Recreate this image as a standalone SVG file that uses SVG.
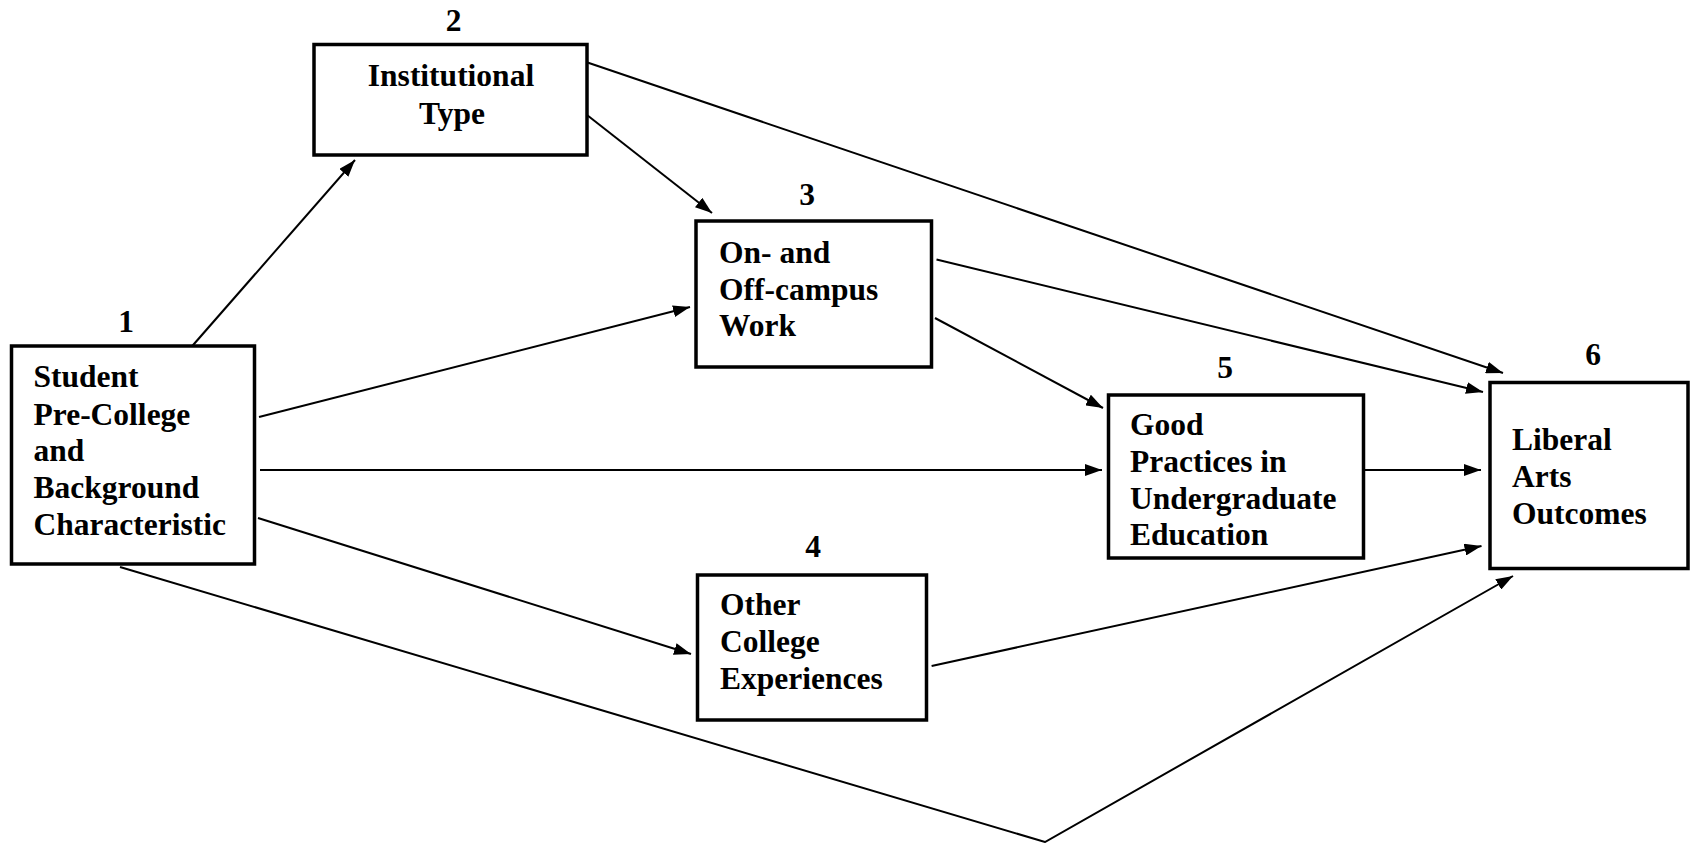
<svg xmlns="http://www.w3.org/2000/svg" width="1690" height="843" viewBox="0 0 1690 843">
<defs>
<marker id="ah" viewBox="0 0 17 12" refX="17" refY="6" markerWidth="17" markerHeight="12" markerUnits="userSpaceOnUse" orient="auto">
<path d="M0,0 L17,6 L0,12 z" fill="#000"/>
</marker>
<style>
.box{fill:#fff;stroke:#000;stroke-width:3.5}
.t{font-family:"Liberation Serif","Times New Roman",serif;font-weight:bold;font-size:31.5px;fill:#000}
.c{fill:none;stroke:#000;stroke-width:2}
.a{marker-end:url(#ah)}
</style>
</defs>
<rect width="1690" height="843" fill="#fff"/>
<g id="connectors">
<line class="c a" x1="190.5" y1="348" x2="355" y2="160"/>
<line class="c a" x1="587" y1="115" x2="712" y2="213"/>
<line class="c a" x1="586" y1="62" x2="1503" y2="373"/>
<line class="c a" x1="259" y1="417" x2="690" y2="307"/>
<line class="c a" x1="260" y1="470" x2="1102" y2="470"/>
<line class="c a" x1="258" y1="518" x2="691" y2="654"/>
<polyline class="c a" points="120,567 1045,842 1513,576"/>
<line class="c a" x1="936.5" y1="259.5" x2="1483" y2="392"/>
<line class="c a" x1="935" y1="318" x2="1103" y2="408"/>
<line class="c a" x1="1361" y1="470" x2="1481" y2="470"/>
<line class="c a" x1="931.6" y1="666" x2="1481.5" y2="546"/>
</g>
<g id="node1">
<rect class="box" x="11.5" y="346" width="243" height="218"/>
<text class="t" x="126" y="332" text-anchor="middle">1</text>
<text class="t" x="33.5" y="387">Student</text>
<text class="t" x="33.5" y="424.5">Pre-College</text>
<text class="t" x="33.5" y="461">and</text>
<text class="t" x="33.5" y="498">Background</text>
<text class="t" x="33.5" y="535">Characteristic</text>
</g>
<g id="node2">
<rect class="box" x="314" y="44.5" width="273" height="110.5"/>
<text class="t" x="453.5" y="31" text-anchor="middle">2</text>
<text class="t" x="451" y="86" text-anchor="middle">Institutional</text>
<text class="t" x="452" y="124" text-anchor="middle">Type</text>
</g>
<g id="node3">
<rect class="box" x="696" y="221" width="235.5" height="146"/>
<text class="t" x="807" y="205" text-anchor="middle">3</text>
<text class="t" x="719" y="263">On- and</text>
<text class="t" x="719" y="299.5">Off-campus</text>
<text class="t" x="719" y="336">Work</text>
</g>
<g id="node4">
<rect class="box" x="697.5" y="575" width="229" height="145"/>
<text class="t" x="813" y="557" text-anchor="middle">4</text>
<text class="t" x="720" y="615">Other</text>
<text class="t" x="720" y="652">College</text>
<text class="t" x="720" y="689">Experiences</text>
</g>
<g id="node5">
<rect class="box" x="1108.5" y="395" width="255" height="163"/>
<text class="t" x="1225" y="378" text-anchor="middle">5</text>
<text class="t" x="1130" y="435">Good</text>
<text class="t" x="1130" y="472">Practices in</text>
<text class="t" x="1130" y="508.5">Undergraduate</text>
<text class="t" x="1130" y="545">Education</text>
</g>
<g id="node6">
<rect class="box" x="1490" y="382.5" width="198" height="186"/>
<text class="t" x="1593" y="365" text-anchor="middle">6</text>
<text class="t" x="1512" y="450">Liberal</text>
<text class="t" x="1512" y="487">Arts</text>
<text class="t" x="1512" y="524">Outcomes</text>
</g>
</svg>
